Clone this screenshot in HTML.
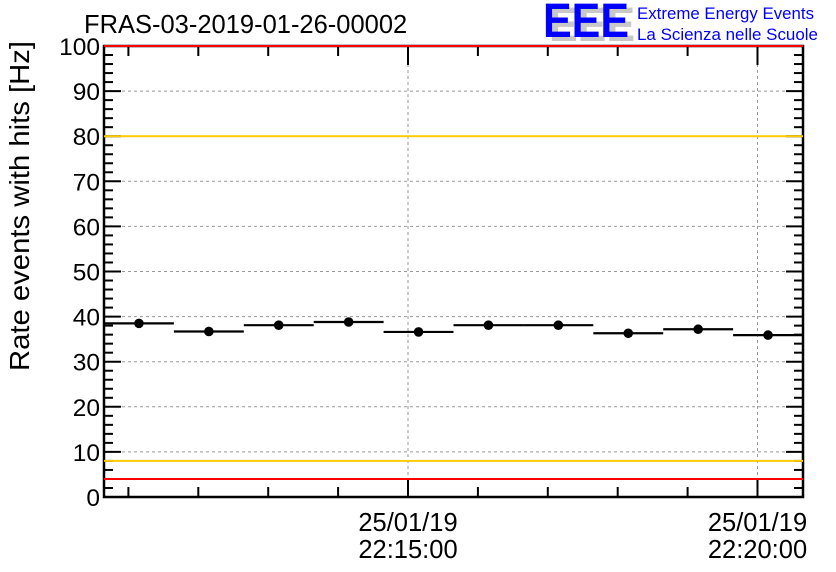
<!DOCTYPE html>
<html><head><meta charset="utf-8"><style>
body{margin:0;background:#fff;}
svg{display:block;font-family:"Liberation Sans",sans-serif;}
</style></head><body>
<svg id="chart" width="836" height="572" viewBox="0 0 836 572">
<text x="84" y="33" font-size="25.5">FRAS-03-2019-01-26-00002</text>
<g>
<text x="549" y="41" font-size="48" font-weight="bold" fill="#c8c8c8" textLength="86" lengthAdjust="spacingAndGlyphs">EEE</text>
<text x="543" y="37" font-size="48" font-weight="bold" fill="#0000ff" textLength="86" lengthAdjust="spacingAndGlyphs">EEE</text>
<text x="637" y="19" font-size="16.5" fill="#0000ff" textLength="177" lengthAdjust="spacingAndGlyphs">Extreme Energy Events</text>
<text x="637" y="40" font-size="16.5" fill="#0000ff" textLength="181" lengthAdjust="spacingAndGlyphs">La Scienza nelle Scuole</text>
</g>
<text transform="translate(29,206) rotate(-90)" text-anchor="middle" font-size="28" textLength="330" lengthAdjust="spacingAndGlyphs">Rate events with hits [Hz]</text>
<g id="grid"></g><g id="axes"></g><g id="marks"></g>
</svg>
<script>
const values=[38.5,36.7,38.1,38.8,36.6,38.1,38.1,36.3,37.2,35.9];
const yTicks=[0,10,20,30,40,50,60,70,80,90,100];
const xTickLabels=[["25/01/19","22:15:00"],["25/01/19","22:20:00"]];
const xTickMinutes=[5,10];
const redLines=[4,100];
const yellowLines=[8,80];
const X0=104,X1=803,Y0=497,Y1=46;
const NS="http://www.w3.org/2000/svg";
const ymap=v=>Y0-(Y0-Y1)*v/100;
const binW=(X1-X0)/values.length;
const minPx=69.9, tStart=408-5*69.9;
const xmap=m=>tStart+m*minPx;
function mk(tag,attrs,parent){const e=document.createElementNS(NS,tag);for(const k in attrs)e.setAttribute(k,attrs[k]);parent.appendChild(e);return e;}
const grid=document.getElementById('grid'),axes=document.getElementById('axes'),marks=document.getElementById('marks');
yTicks.forEach(v=>{
 if(v>0&&v<100){const l=mk('line',{x1:X0,x2:X1,y1:ymap(v),y2:ymap(v),stroke:'#999','stroke-dasharray':'3,3'},grid);
 
 }
 const t=mk('text',{x:X0-4,y:ymap(v)+9,'text-anchor':'end','font-size':'24.5'},axes);t.textContent=v;
 
 
 [X0,X1-17].forEach(x=>mk('line',{x1:x,x2:x+17,y1:ymap(v),y2:ymap(v),stroke:'#000','stroke-width':2},axes));
});
for(let v=2;v<100;v+=2){if(v%10)[X0,X1-9].forEach(x=>mk('line',{x1:x,x2:x+9,y1:ymap(v),y2:ymap(v),stroke:'#000','stroke-width':2},axes));}
xTickMinutes.forEach((m,i)=>{
 const x=xmap(m);
 const g=mk('line',{x1:x,x2:x,y1:Y1,y2:Y0,stroke:'#999','stroke-dasharray':'3,3'},grid);
 
 
 [[Y0,Y0-19],[Y1,Y1+19]].forEach(p=>mk('line',{x1:x,x2:x,y1:p[0],y2:p[1],stroke:'#000','stroke-width':2},axes));
 xTickLabels[i].forEach((s,j)=>{const t=mk('text',{x:x,y:531+j*27,'text-anchor':'middle','font-size':'25.5'},axes);t.textContent=s;
 
 });
});
for(let m=0;m<=10.5;m++){const x=xmap(m);if(x<X0||x>X1||m%5===0)continue;
 [[Y0,Y0-10],[Y1,Y1+10]].forEach(p=>mk('line',{x1:x,x2:x,y1:p[0],y2:p[1],stroke:'#000','stroke-width':2},axes));}
mk('rect',{x:X0,y:Y1,width:X1-X0,height:Y0-Y1,fill:'none',stroke:'#000','stroke-width':2.5},axes);
redLines.forEach(v=>{const l=mk('line',{x1:X0,x2:X1,y1:ymap(v),y2:ymap(v),stroke:'#ff0000','stroke-width':2},marks);
 
 });
yellowLines.forEach(v=>{const l=mk('line',{x1:X0,x2:X1,y1:ymap(v),y2:ymap(v),stroke:'#ffcc00','stroke-width':2},marks);
 
 });
values.forEach((v,i)=>{
 const xa=X0+i*binW,y=ymap(v);
 const b=mk('line',{x1:xa,x2:xa+binW,y1:y,y2:y,stroke:'#000','stroke-width':2.2},marks);
 
 
 const c=mk('circle',{cx:xa+binW/2,cy:y,r:4.8,fill:'#000'},marks);
 
 
});
</script>
</body></html>
